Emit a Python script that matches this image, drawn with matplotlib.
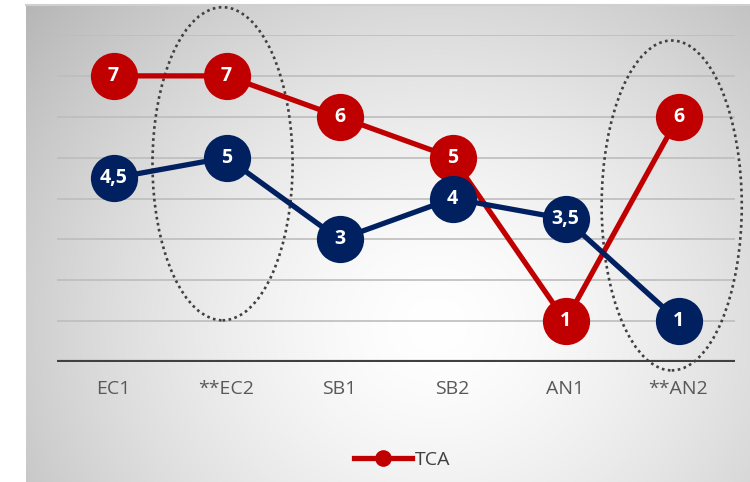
import numpy as np
import matplotlib
matplotlib.use("Agg")
import matplotlib.pyplot as plt
from matplotlib.patches import Ellipse
from matplotlib.lines import Line2D

plt.rcParams['font.family'] = ['Open Sans', 'DejaVu Sans']

categories = ["EC1", "**EC2", "SB1", "SB2", "AN1", "**AN2"]
tca_values = [7, 7, 6, 5, 1, 6]
second_values = [4.5, 5, 3, 4, 3.5, 1]
series_name = "TCA"

RED = "#C00000"
BLUE = "#002060"

W, H = 750, 482
fig = plt.figure(figsize=(W / 100, H / 100), dpi=100)
fig.patch.set_facecolor("white")

# gray panel with a soft radial gradient
bg = fig.add_axes([26 / W, 0, (W - 26) / W, (H - 5) / H])
bg.set_axis_off()
nx, ny = 724, 477
xx, yy = np.meshgrid(np.arange(nx), np.arange(ny))
cx, cy = 410, 320
r = np.sqrt(((xx - cx) / 520) ** 2 + ((yy - cy) / 470) ** 2)
shade = 1.0 - 0.27 * np.clip(r, 0, 1.2) ** 1.5
img = np.dstack([shade, shade, shade])
bg.imshow(img, aspect="auto", extent=[0, 1, 0, 1], origin="upper", vmin=0, vmax=1)
bg.set_xlim(0, 1)
bg.set_ylim(0, 1)
bg.plot([0, 1], [1, 1], color="#d0d0d0", lw=1.5, transform=bg.transAxes, clip_on=False)

ax = fig.add_axes([57 / W, (H - 362) / H, 678 / W, 327 / H])
ax.set_facecolor("none")
ax.set_xlim(-0.5, 5.5)
ax.set_ylim(0, 8)
for s in ax.spines.values():
    s.set_visible(False)
for yv in range(1, 9):
    ax.axhline(yv, color="#bdbdbd", lw=1.2, zorder=1)
ax.axhline(0, color="#404040", lw=3.0, zorder=2)

ax.set_yticks([])
x = np.arange(len(categories))
ax.set_xticks(x)
ax.set_xticklabels(categories, fontsize=14, color="#595959")
ax.tick_params(axis="x", length=0, pad=13)

# dotted highlight ellipses
for (ex, ey, ew, eh) in [(0.965, 4.85, 1.24, 7.66), (4.94, 3.83, 1.24, 8.07)]:
    ax.add_patch(Ellipse((ex, ey), ew, eh, fill=False, edgecolor="#404040",
                         lw=1.9, linestyle=(0, (1, 1.3)), zorder=3, clip_on=False))

ax.plot(x, tca_values, color=RED, lw=3.8, marker="o", ms=34,
        markeredgewidth=0, zorder=4, label=series_name)
ax.plot(x, second_values, color=BLUE, lw=3.8, marker="o", ms=34,
        markeredgewidth=0, zorder=5)

def fmt(v):
    return (f"{v:g}").replace(".", ",")

for xi, v in zip(x, tca_values):
    ax.text(xi, v, fmt(v), ha="center", va="center", color="white",
            fontsize=14, fontweight="bold", zorder=6)
for xi, v in zip(x, second_values):
    ax.text(xi, v, fmt(v), ha="center", va="center", color="white",
            fontsize=14, fontweight="bold", zorder=7)

handle = Line2D([], [], color=RED, lw=3.8, marker="o", ms=12, markeredgewidth=0)
fig.legend([handle], [series_name], loc="center", bbox_to_anchor=(402 / W, 1 - 460 / H),
           frameon=False, fontsize=14, handlelength=3.0, handletextpad=0.15,
           labelcolor="#404040")

fig.savefig("out.png", dpi=100)
